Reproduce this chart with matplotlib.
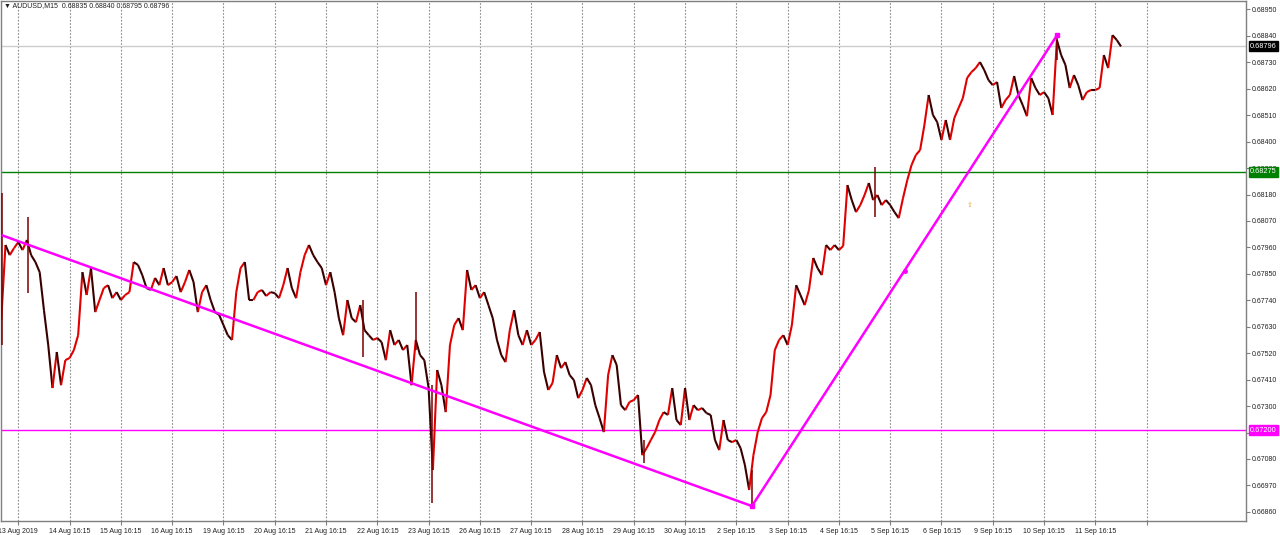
import matplotlib
matplotlib.use("Agg")
import matplotlib.pyplot as plt
import numpy as np
from matplotlib.collections import LineCollection

plt.rcParams['font.family'] = ['Liberation Sans', 'DejaVu Sans']

# ---------------- data ----------------
symbol = "AUDUSD,M15"
last_ohlc = ["0.68835", "0.68840", "0.68795", "0.68796"]

# x axis: trading hours relative to "13 Aug 16:15" (one label per trading day)
day_labels = ["13 Aug 2019", "14 Aug 16:15", "15 Aug 16:15", "16 Aug 16:15",
              "19 Aug 16:15", "20 Aug 16:15", "21 Aug 16:15", "22 Aug 16:15",
              "23 Aug 16:15", "26 Aug 16:15", "27 Aug 16:15", "28 Aug 16:15",
              "29 Aug 16:15", "30 Aug 16:15", "2 Sep 16:15", "3 Sep 16:15",
              "4 Sep 16:15", "5 Sep 16:15", "6 Sep 16:15", "9 Sep 16:15",
              "10 Sep 16:15", "11 Sep 16:15", ""]
hours_per_day = 24
start_hour = -8
step_hours = 2

# price sampled every 2 trading hours
price = [
    0.67658, 0.67970, 0.67928, 0.67957,
    0.67982, 0.67949, 0.67991, 0.67928, 0.67899, 0.67857, 0.67699, 0.67554, 0.67375, 0.67525, 0.67387, 0.67491,
    0.67500, 0.67533, 0.67595, 0.67857, 0.67762, 0.67874, 0.67691, 0.67741, 0.67791, 0.67803, 0.67749, 0.67774,
    0.67741, 0.67762, 0.67774, 0.67899, 0.67887, 0.67845, 0.67791, 0.67783, 0.67833, 0.67803, 0.67874, 0.67803,
    0.67816, 0.67841, 0.67774, 0.67816, 0.67866, 0.67816, 0.67691, 0.67774, 0.67803, 0.67741, 0.67691, 0.67679,
    0.67637, 0.67595, 0.67575, 0.67774, 0.67874, 0.67899, 0.67741, 0.67741, 0.67774, 0.67783, 0.67758, 0.67774,
    0.67770, 0.67749, 0.67803, 0.67874, 0.67791, 0.67749, 0.67857, 0.67928, 0.67970, 0.67928, 0.67899, 0.67874,
    0.67803, 0.67857, 0.67774, 0.67666, 0.67595, 0.67741, 0.67666, 0.67649, 0.67720, 0.67616, 0.67595, 0.67575,
    0.67583, 0.67566, 0.67491, 0.67616, 0.67554, 0.67575, 0.67533, 0.67554, 0.67387, 0.67575, 0.67512, 0.67491,
    0.67375, 0.67034, 0.67450, 0.67387, 0.67275, 0.67554, 0.67637, 0.67666, 0.67616, 0.67866, 0.67783, 0.67803,
    0.67749, 0.67774, 0.67720, 0.67666, 0.67575, 0.67512, 0.67483, 0.67616, 0.67699, 0.67595, 0.67554, 0.67616,
    0.67554, 0.67575, 0.67608, 0.67442, 0.67367, 0.67396, 0.67512, 0.67458, 0.67483, 0.67429, 0.67408, 0.67333,
    0.67367, 0.67417, 0.67387, 0.67304, 0.67250, 0.67192, 0.67429, 0.67512, 0.67471, 0.67304, 0.67283, 0.67317,
    0.67325, 0.67346, 0.67096, 0.67125, 0.67159, 0.67192, 0.67242, 0.67275, 0.67263, 0.67375, 0.67242, 0.67221,
    0.67375, 0.67242, 0.67304, 0.67283, 0.67292, 0.67271, 0.67263, 0.67159, 0.67117, 0.67242, 0.67159, 0.67150,
    0.67159, 0.67125, 0.67055, 0.66951, 0.67096, 0.67192, 0.67250, 0.67275, 0.67346, 0.67533, 0.67575, 0.67595,
    0.67554, 0.67637, 0.67803, 0.67762, 0.67720, 0.67783, 0.67916, 0.67874, 0.67845, 0.67970, 0.67949, 0.67970,
    0.67949, 0.67966, 0.68219, 0.68157, 0.68107, 0.68136, 0.68178, 0.68228, 0.68157, 0.68178, 0.68136, 0.68157,
    0.68136, 0.68107, 0.68082, 0.68165, 0.68240, 0.68303, 0.68344, 0.68365, 0.68469, 0.68594, 0.68511, 0.68481,
    0.68407, 0.68490, 0.68407, 0.68498, 0.68540, 0.68581, 0.68665, 0.68689, 0.68706, 0.68731, 0.68698, 0.68656,
    0.68635, 0.68648, 0.68540, 0.68573, 0.68594, 0.68673, 0.68594, 0.68552, 0.68506, 0.68665, 0.68623, 0.68594,
    0.68606, 0.68581, 0.68511, 0.68823, 0.68760, 0.68719, 0.68623, 0.68677, 0.68635, 0.68573, 0.68606, 0.68615,
    0.68615, 0.68623, 0.68760, 0.68706, 0.68843, 0.68823, 0.68796,
]

# isolated long wicks
wick_hours = [-7.5, 4.5, 161.3, 186.1, 193.6, 292.8, 343.3, 400.9, 486.1]
wick_high = [0.68186, 0.68086, 0.67741, 0.67774, 0.67387, 0.67159, 0.67034, 0.68294, 0.68843]
wick_low = [0.67554, 0.67770, 0.67504, 0.67533, 0.66897, 0.67063, 0.66884, 0.68086, 0.68739]

# trend lines (three anchor points)
trend_hours = [-7.8, 343.3, 486.1]
trend_price = [0.68011, 0.66884, 0.68843]

level_green = 0.68275
level_magenta = 0.67200
bid_price = 0.68796
arrow_hour, arrow_price = 445.3, 0.68136

y_tick_values = [0.68950, 0.68840, 0.68730, 0.68620, 0.68510, 0.68400, 0.68290,
                 0.68180, 0.68070, 0.67960, 0.67850, 0.67740, 0.67630, 0.67520,
                 0.67410, 0.67300, 0.67190, 0.67080, 0.66970, 0.66860]

# ---------------- figure ----------------
W, H = 1280, 535
fig = plt.figure(figsize=(W / 100, H / 100), dpi=100)
ax = fig.add_axes([1 / W, 14 / H, 1245 / W, 520 / H])
ax.set_xlim(-8.1, 574.5)
ax.set_ylim(0.66822, 0.68985)

fs = 5.0
txt_col = '#202020'

# vertical dotted grid at day ticks
xt = [hours_per_day * k for k in range(len(day_labels))]
for x in xt:
    ax.axvline(x, color='#8c8c8c', lw=0.8, ls=(0, (1.5, 1.5)), zorder=1)

# horizontal levels
ax.axhline(bid_price, color='#cccccc', lw=1, zorder=2)
ax.axhline(level_green, color='#008000', lw=1, zorder=2)
ax.axhline(level_magenta, color='#ff00ff', lw=1, zorder=2)

# price path
hrs = start_hour + step_hours * np.arange(len(price))
p = np.array(price)
pts = np.column_stack([hrs, p])
segs = np.stack([pts[:-1], pts[1:]], axis=1)
cols = ['#e00000' if b > a else '#3a0000' for a, b in zip(p[:-1], p[1:])]
ax.add_collection(LineCollection(segs, colors=cols, linewidths=1.5, zorder=3))
ax.vlines(wick_hours, wick_low, wick_high, colors='#7a0000', lw=1.1, zorder=3)

# trend lines
ax.plot(trend_hours, trend_price, color='#ff00ff', lw=1.8, zorder=4,
        solid_capstyle='butt')
ax.plot(trend_hours[1:], trend_price[1:], ls='none', marker='s', ms=3.2,
        color='#ff00ff', zorder=5)
ax.plot([(trend_hours[1] + trend_hours[2]) / 2], [(trend_price[1] + trend_price[2]) / 2],
        ls='none', marker='o', ms=2.5, color='#ff00ff', zorder=5)

ax.text(arrow_hour, arrow_price, "\u21e7", color='#f0a030', fontsize=5,
        ha='center', va='center', family=['DejaVu Sans'], zorder=5)

# axes styling
for s in ax.spines.values():
    s.set_color('#7f7f7f')
    s.set_linewidth(1)

ax.yaxis.tick_right()
ax.set_yticks(y_tick_values)
ax.set_yticklabels([f"{v:.5f}" for v in y_tick_values])
ax.set_xticks(xt)
ax.set_xticklabels(day_labels)
ax.tick_params(axis='both', direction='out', length=3, width=0.8,
               color='#7f7f7f', labelsize=fs, labelcolor=txt_col)
ax.tick_params(axis='y', pad=1.5)
ax.tick_params(axis='x', pad=1.8)

# price tags on the right axis
def tag(val, face, text):
    ax.annotate(text, xy=(1.0, val), xycoords=('axes fraction', 'data'),
                xytext=(3.0, 0), textcoords='offset points', ha='left', va='center',
                fontsize=fs + 0.3, color='white',
                bbox=dict(boxstyle='square,pad=0.2', fc=face, ec=face),
                zorder=10, annotation_clip=False)

tag(bid_price, 'black', "0.68796")
tag(level_green, '#008000', "0.68275")
tag(level_magenta, '#ff00ff', "0.67200")

fig.text(4 / W, 1 - 6 / H, "\u25bc " + symbol + "  " + " ".join(last_ohlc),
         fontsize=fs, color=txt_col, va='center', ha='left')

fig.savefig("out.png", dpi=100, facecolor='white')
